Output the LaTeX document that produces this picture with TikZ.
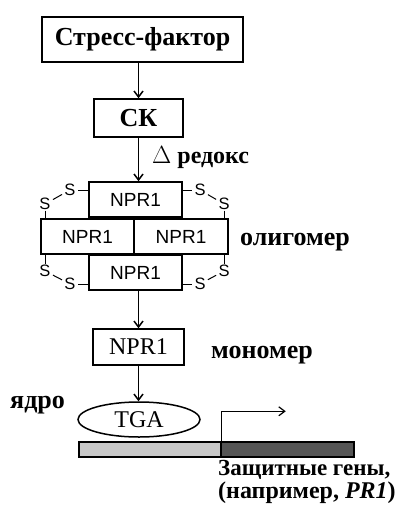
\documentclass[tikz,border=0pt]{standalone}
\usepackage{fontspec}
\setmainfont{Liberation Serif}
\setsansfont{Liberation Sans}
\usetikzlibrary{arrows.meta,positioning,shapes.geometric}
\definecolor{promgray}{RGB}{200,200,200}
\definecolor{genegray}{RGB}{85,85,85}
\tikzset{
	box/.style={draw=black, line width=1.5pt, minimum height=45pt, inner sep=0pt, font=\fontsize{26}{30}\selectfont\bfseries},
	npr/.style={draw=black, line width=1.5pt, minimum width=93pt, minimum height=35pt, inner sep=0pt, font=\sffamily\fontsize{19}{22}\selectfont},
	sulfur/.style={inner sep=0.5pt, font=\sffamily\fontsize{16.5}{18}\selectfont},
	bond/.style={draw=black, line width=1pt, shorten <=2pt, shorten >=2pt},
	flow/.style={draw=black, line width=1.5pt, -{Straight Barb[length=6pt,width=9pt]}},
	lbl/.style={anchor=west, inner sep=0pt, font=\fontsize{26}{30}\selectfont\bfseries},
}
\begin{document}
\begin{tikzpicture}[x=1pt, y=-1pt]
	\useasboundingbox (0,0) rectangle (397,508);
	% top of the chain
	\node[box, minimum width=201pt] (stress) at (142.5,39.5) {Стресс-фактор};
	\node[box, minimum width=89pt, minimum height=38pt] (sk) at (138.5,118) {СК};
	\node[lbl, font=\fontsize{24}{28}\selectfont\bfseries] (redox) at (152,158) {$\Delta$ редокс};
	% oligomer
	\node[npr] (top) at (135.5,199.5) {NPR1};
	\node[npr] (midl) at (87.5,236.5) {NPR1};
	\node[npr, minimum width=94pt] (midr) at (181,236.5) {NPR1};
	\node[npr] (bot) at (135.5,272.5) {NPR1};
	\node[lbl] (olig) at (240,242) {олигомер};
	% disulfide bridges
	\node[sulfur] (stl1) at (45,204) {S};
	\node[sulfur] (stl2) at (70,190) {S};
	\node[sulfur] (str1) at (224,204) {S};
	\node[sulfur] (str2) at (200,190) {S};
	\node[sulfur] (sbl1) at (45,271) {S};
	\node[sulfur] (sbl2) at (70,284) {S};
	\node[sulfur] (sbr1) at (224,271) {S};
	\node[sulfur] (sbr2) at (200,284) {S};
	\draw[bond] (stl1) -- (stl2);
	\draw[bond] (str1) -- (str2);
	\draw[bond] (sbl1) -- (sbl2);
	\draw[bond] (sbr1) -- (sbr2);
	\draw[bond, shorten >=0pt] (stl2) -- (stl2 -| top.west);
	\draw[bond, shorten >=0pt] (str2) -- (str2 -| top.east);
	\draw[bond, shorten >=0pt] (sbl2) -- (sbl2 -| bot.west);
	\draw[bond, shorten >=0pt] (sbr2) -- (sbr2 -| bot.east);
	\draw[bond, shorten <=0pt, shorten >=0pt] (stl1) -- (stl1 |- midl.north);
	\draw[bond, shorten <=0pt, shorten >=0pt] (str1) -- (str1 |- midr.north);
	\draw[bond, shorten <=0pt, shorten >=0pt] (sbl1) -- (sbl1 |- midl.south);
	\draw[bond, shorten <=0pt, shorten >=0pt] (sbr1) -- (sbr1 |- midr.south);
	% monomer and nucleus
	\node[draw=black, line width=1.5pt, minimum width=91pt, minimum height=36pt, inner sep=0pt, font=\fontsize{24}{28}\selectfont] (mono) at (138.5,347) {NPR1};
	\node[lbl] (monolbl) at (211,355) {мономер};
	\node[lbl] (nucl) at (10,405) {ядро};
	\node[ellipse, draw=black, line width=1.5pt, minimum width=122pt, minimum height=35pt, inner sep=0pt, font=\fontsize{24}{28}\selectfont] (tga) at (139,419.5) {TGA};
	\node[draw=black, line width=1.5pt, fill=promgray, minimum width=142pt, minimum height=15pt, inner sep=0pt] (prom) at (150,449.5) {};
	\node[draw=black, line width=1.5pt, fill=genegray, minimum width=133pt, minimum height=15pt, inner sep=0pt] (gene) at (287.5,449.5) {};
	\node[lbl, font=\fontsize{23}{27}\selectfont\bfseries] (genes) at (218,470) {Защитные гены,};
	\node[lbl, font=\fontsize{24}{28}\selectfont\bfseries] (example) at (218,493) {(например, \textit{PR1})};
	% arrows
	\draw[flow] (sk.north |- stress.south) -- (sk.north);
	\draw[flow] (sk.south) -- (sk.south |- top.north);
	\draw[flow] (mono.north |- bot.south) -- (mono.north);
	\draw[flow] (mono.south) -- (mono.south |- tga.north);
	\draw[flow, line width=1.2pt] (prom.north east) |- ++(64,-30);
\end{tikzpicture}
\end{document}
